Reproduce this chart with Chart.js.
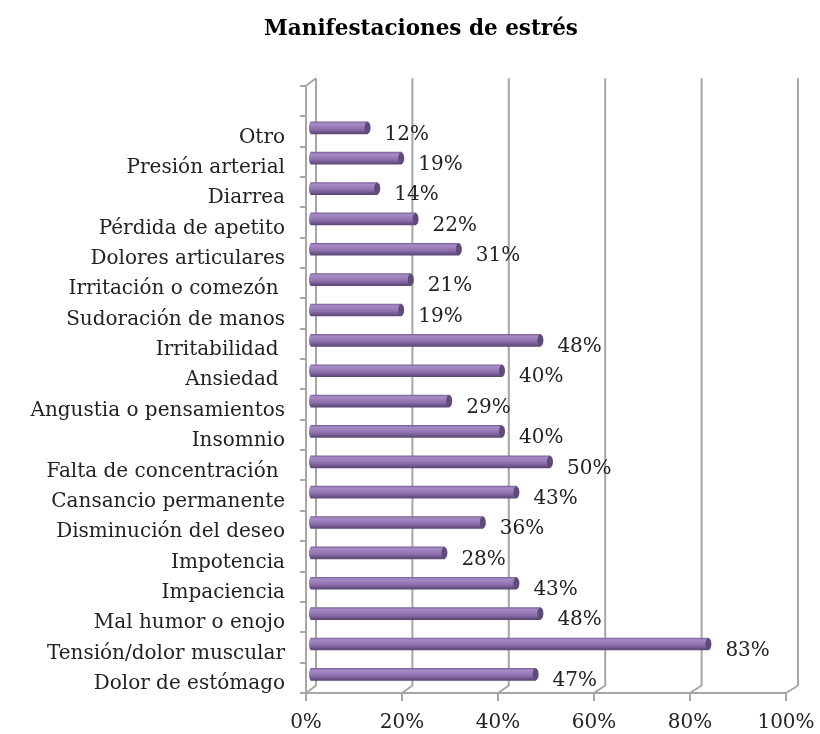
<!DOCTYPE html>
<html>
<head>
<meta charset="utf-8">
<script src="https://cdn.jsdelivr.net/npm/chart.js@4"></script>
<style>
body{margin:0;background:#fff}
canvas{display:block}
</style>
</head>
<body>
<canvas id="myChart" width="820" height="734"></canvas>
<script>
const chartTitle = 'Manifestaciones de estrés';
// first slot stays empty, the original axis has one spare category on top
const categorias = ['', 'Otro', 'Presión arterial', 'Diarrea', 'Pérdida de apetito', 'Dolores articulares',
	'Irritación o comezón ', 'Sudoración de manos', 'Irritabilidad ', 'Ansiedad ', 'Angustia o pensamientos',
	'Insomnio', 'Falta de concentración ', 'Cansancio permanente', 'Disminución del deseo', 'Impotencia',
	'Impaciencia', 'Mal humor o enojo', 'Tensión/dolor muscular', 'Dolor de estómago'];
const porcentajes = [null, 12, 19, 14, 22, 31, 21, 19, 48, 40, 29, 40, 50, 43, 36, 28, 43, 48, 83, 47];
const xTicks = [0, 20, 40, 60, 80, 100];

const fuente = '"DejaVu Serif", serif';
const gris = '#a6a6a6';
const depthY = 7.5; // back wall offset
const barShiftX = 4, barShiftY = -3.5;

function depthX(t){
	return 10 + t * 0.02; // back wall is a little wider than the front axis
}

function barGradient(ctx){
	const c = ctx.chart;
	if (!c.chartArea) return '#8f70ae';
	const y = c.scales.y.getPixelForValue(ctx.dataIndex);
	const g = c.ctx.createLinearGradient(0, y - 6, 0, y + 6);
	g.addColorStop(0, '#7d629b');
	g.addColorStop(0.15, '#a78cc6');
	g.addColorStop(0.6, '#8f70ae');
	g.addColorStop(1, '#5b4675');
	return g;
}

const walls = {
	id: 'walls',
	afterLayout(chart){
		// title is centred a bit right of the plot in the original
		chart.titleBlock.left = 56;
		chart.titleBlock.right = 786;
	},
	beforeDatasetsDraw(chart){
		const {ctx, chartArea: a, scales} = chart;
		ctx.save();
		ctx.strokeStyle = gris;
		ctx.lineWidth = 2;
		ctx.beginPath();
		xTicks.forEach((t) => {
			const x = scales.x.getPixelForValue(t);
			ctx.moveTo(x, a.bottom);
			ctx.lineTo(x + depthX(t), a.bottom - depthY);
			ctx.lineTo(x + depthX(t), a.top - depthY);
		});
		ctx.moveTo(a.left, a.top);
		ctx.lineTo(a.left + depthX(0), a.top - depthY);
		ctx.stroke();
		ctx.restore();
	},
	beforeDatasetDraw(chart){
		chart.ctx.save();
		chart.ctx.translate(barShiftX, barShiftY);
	},
	afterDatasetDraw(chart, args){
		const ctx = chart.ctx;
		args.meta.data.forEach((bar, i) => {
			if (porcentajes[i] === null) return;
			const h = bar.height / 2;
			ctx.fillStyle = barGradient({chart, dataIndex: i});
			ctx.beginPath();
			ctx.ellipse(bar.base, bar.y, 2, h, 0, 0, Math.PI * 2);
			ctx.fill();
			ctx.fillStyle = '#5f4a7a';
			ctx.beginPath();
			ctx.ellipse(bar.x, bar.y, 3, h, 0, 0, Math.PI * 2);
			ctx.fill();
		});
		ctx.restore();
	},
	afterDatasetsDraw(chart){
		const ctx = chart.ctx;
		ctx.save();
		ctx.font = '20px ' + fuente;
		ctx.fillStyle = '#222';
		ctx.textBaseline = 'middle';
		chart.getDatasetMeta(0).data.forEach((bar, i) => {
			if (porcentajes[i] === null) return;
			ctx.fillText(porcentajes[i] + '%', bar.x + 21, bar.y + 3);
		});
		ctx.restore();
	}
};

new Chart(document.getElementById('myChart'), {
	type: 'bar',
	data: {
		labels: categorias,
		datasets: [{
			data: porcentajes,
			backgroundColor: barGradient,
			barThickness: 12
		}]
	},
	plugins: [walls],
	options: {
		indexAxis: 'y',
		responsive: false,
		animation: false,
		layout: {autoPadding: false, padding: {left: 22, right: 34, top: 0, bottom: 0}},
		plugins: {
			legend: {display: false},
			tooltip: {enabled: false},
			title: {
				display: true,
				text: chartTitle,
				color: '#000',
				font: {family: fuente, size: 21.5, weight: 'bold'},
				padding: {top: 17, bottom: 43}
			}
		},
		scales: {
			x: {
				min: 0,
				max: 100,
				afterBuildTicks(scale){ scale.ticks = xTicks.map((v) => ({value: v})); },
				afterFit(scale){
					scale.height = 41;
					scale.paddingLeft = 0;
					scale.paddingRight = 0;
				},
				border: {color: gris, width: 2},
				grid: {drawOnChartArea: false, color: gris, tickLength: 8, lineWidth: 2},
				ticks: {
					maxRotation: 0,
					color: '#222',
					padding: 10,
					font: {family: fuente, size: 20},
					callback: (v) => v + '%'
				}
			},
			y: {
				afterFit(scale){ scale.width = 284; },
				border: {color: gris, width: 2},
				grid: {drawOnChartArea: false, color: gris, tickLength: 6, lineWidth: 2},
				ticks: {
					autoSkip: false,
					color: '#222',
					padding: 15,
					labelOffset: 6,
					font: {family: fuente, size: 20}
				}
			}
		}
	}
});
</script>
</body>
</html>
